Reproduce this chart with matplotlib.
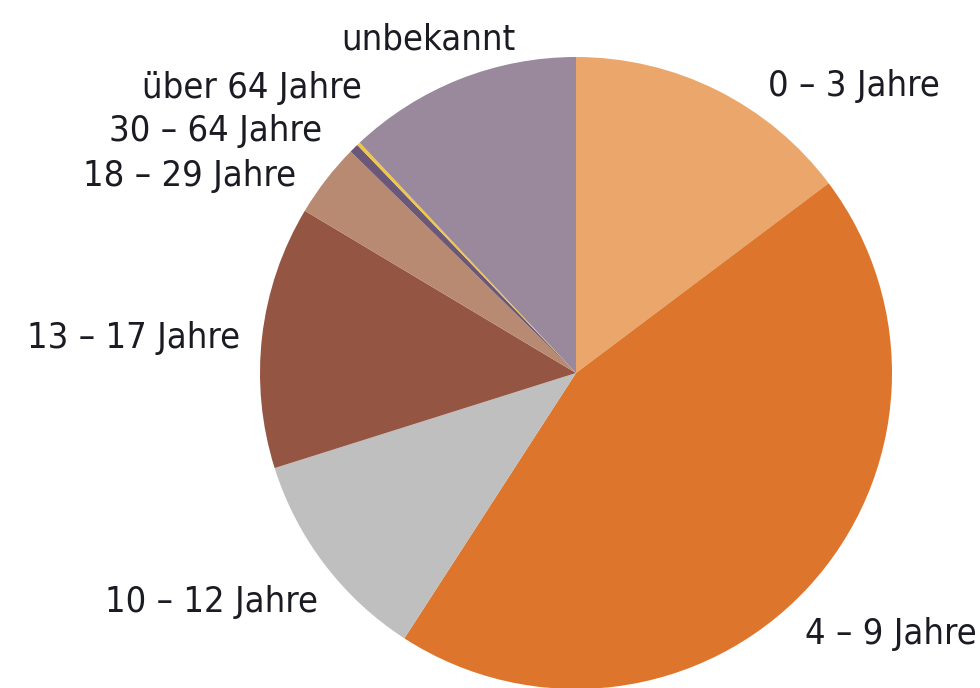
import matplotlib
matplotlib.use("Agg")
import matplotlib.pyplot as plt

categories = ["0 – 3 Jahre", "4 – 9 Jahre", "10 – 12 Jahre", "13 – 17 Jahre",
              "18 – 29 Jahre", "30 – 64 Jahre", "über 64 Jahre", "unbekannt"]
values = [14.75, 44.4, 11.0, 13.45, 3.78, 0.47, 0.17, 12.0]
colors = ["#EBA76B", "#DD762C", "#BFBFBF", "#945542",
          "#B88A72", "#6B5777", "#F2C743", "#9A889D"]

W, H = 980, 688
fig = plt.figure(figsize=(W / 100, H / 100), dpi=100)
ax = fig.add_axes([0, 0, 1, 1])
cx, cy, r = 576, H - 373, 316
ax.pie(values, colors=colors, startangle=90, counterclock=False,
       center=(cx, cy), radius=r, frame=True,
       wedgeprops=dict(edgecolor="none", linewidth=0))
ax.set_xlim(0, W)
ax.set_ylim(0, H)
ax.set_aspect("equal")
ax.axis("off")

# label positions (pixel coords: x, y-from-top, horizontal alignment)
label_pos = {
    "unbekannt": (428, 40, "center"),
    "über 64 Jahre": (362, 88, "right"),
    "30 – 64 Jahre": (322, 131, "right"),
    "18 – 29 Jahre": (296, 176, "right"),
    "13 – 17 Jahre": (240, 338, "right"),
    "10 – 12 Jahre": (318, 602, "right"),
    "0 – 3 Jahre": (768, 86, "left"),
    "4 – 9 Jahre": (977, 634, "right"),
}
for lab in categories:
    x, y, ha = label_pos[lab]
    ax.text(x, H - y, lab, ha=ha, va="center", fontsize=26,
            family="DejaVu Sans", fontstretch="condensed", color="#1b1b24")

fig.savefig("out.png", dpi=100)
